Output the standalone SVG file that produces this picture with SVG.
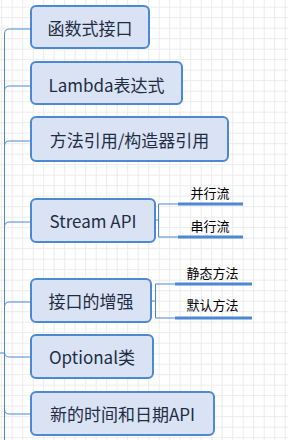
<svg xmlns="http://www.w3.org/2000/svg" width="288" height="440" viewBox="0 0 288 440">
<defs>
<pattern id="grid" x="1.2" y="6.7" width="10.5" height="10.5" patternUnits="userSpaceOnUse">
<path d="M0,0.5 H10.5 M0.5,0 V10.5" fill="none" stroke="#ebebeb" stroke-width="1"/>
</pattern>
<style>
.box{fill:#dae3f3;stroke:#4d88d2;stroke-width:2}
.t{font-family:"Noto Sans CJK SC","Open Sans",sans-serif;font-size:17px;fill:#1e2c45;text-anchor:middle;dominant-baseline:central}
.s{font-family:"Noto Sans CJK SC",sans-serif;font-size:13px;fill:#000;text-anchor:middle;dominant-baseline:central}
.ln{fill:none;stroke:#4d88d2;stroke-width:1}
.ul{fill:none;stroke:#4d88d2;stroke-width:3}
</style>
</defs>
<rect width="288" height="440" fill="#fff"/>
<rect width="288" height="440" fill="url(#grid)"/>
<g id="connectors">
<path class="ln" d="M0,353 H4.5"/>
<path class="ln" d="M4.5,440 V34 Q4.5,29 9.5,29 H31"/>
<path class="ln" d="M4.5,91 Q4.5,86 9.5,86 H31"/>
<path class="ln" d="M4.5,146 Q4.5,141 9.5,141 H31"/>
<path class="ln" d="M4.5,227 Q4.5,222 9.5,222 H31"/>
<path class="ln" d="M4.5,307 Q4.5,302 9.5,302 H31"/>
<path class="ln" d="M4.5,352 Q4.5,357 9.5,357 H31"/>
<path class="ln" d="M4.5,409 Q4.5,414 9.5,414 H31"/>
<path class="ln" d="M155,220 H158.5 M178,204 H158.5 V237 H178"/>
<path class="ul" d="M178,204 H243 M178,237 H243"/>
<path class="ln" d="M151,301 H155.5 M175,284 H155.5 V318 H175"/>
<path class="ul" d="M175,284 H252 M175,318 H252"/>
</g>
<g id="n1"><rect class="box" x="31" y="6" width="118" height="42" rx="5"/><text class="t" x="90" y="27">函数式接口</text></g>
<g id="n2"><rect class="box" x="31" y="62" width="151" height="42" rx="5"/><text class="t" x="106.5" y="84">Lambda表达式</text></g>
<g id="n3"><rect class="box" x="31" y="117" width="197" height="44" rx="5"/><text class="t" x="129.5" y="139">方法引用/构造器引用</text></g>
<g id="n4"><rect class="box" x="31" y="199" width="124" height="43" rx="5"/><text class="t" x="93" y="220">Stream API</text></g>
<g id="n4a"><text class="s" x="210" y="192">并行流</text></g>
<g id="n4b"><text class="s" x="210" y="225">串行流</text></g>
<g id="n5"><rect class="box" x="31" y="279" width="120" height="43" rx="5"/><text class="t" x="91" y="300.5">接口的增强</text></g>
<g id="n5a"><text class="s" x="212.5" y="272">静态方法</text></g>
<g id="n5b"><text class="s" x="212.5" y="304">默认方法</text></g>
<g id="n6"><rect class="box" x="31" y="335" width="122" height="43" rx="5"/><text class="t" x="92" y="356.5">Optional类</text></g>
<g id="n7"><rect class="box" x="31" y="392" width="183" height="43" rx="5"/><text class="t" x="122.5" y="413.5">新的时间和日期API</text></g>
</svg>
